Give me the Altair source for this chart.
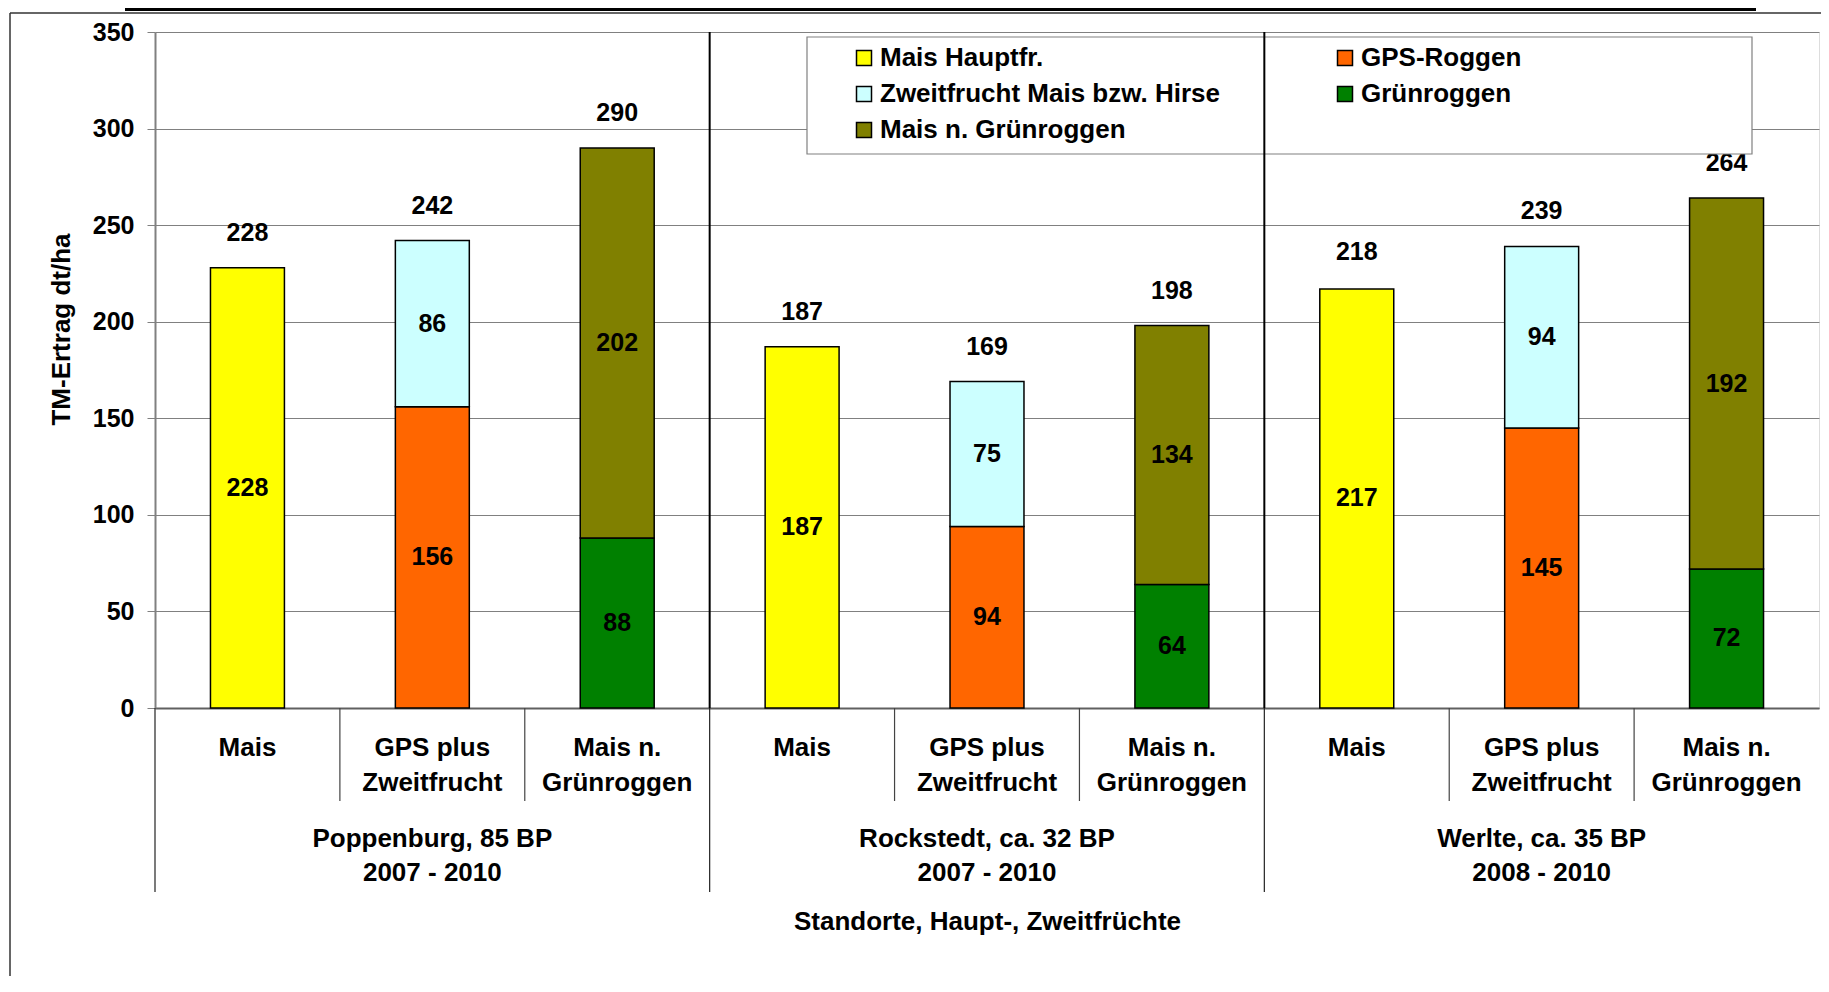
import altair as alt
import pandas as pd

# ---------------- data ----------------
sites = ["Poppenburg, 85 BP", "Rockstedt, ca. 32 BP", "Werlte, ca. 35 BP"]
periods = ["2007 - 2010", "2007 - 2010", "2008 - 2010"]
variants = ["Mais", "GPS plus\nZweitfrucht", "Mais n.\nGrünroggen"]

# legend order (filled column by column, 3 rows)
series_names = ["Mais Hauptfr.", "Zweitfrucht Mais bzw. Hirse", "Mais n. Grünroggen",
                "GPS-Roggen", "Grünroggen"]
series_colors = ["#FFFF00", "#CCFFFF", "#808000", "#FF6600", "#008000"]

# bottom / top segment series for each variant
base_series = ["Mais Hauptfr.", "GPS-Roggen", "Grünroggen"]
top_series = [None, "Zweitfrucht Mais bzw. Hirse", "Mais n. Grünroggen"]

# values per bar, site-major order
base_values = [228, 156, 88, 187, 94, 64, 217, 145, 72]
top_values = [0, 86, 202, 0, 75, 134, 0, 94, 192]
totals = [228, 242, 290, 187, 169, 198, 218, 239, 264]

y_ticks = [0, 50, 100, 150, 200, 250, 300, 350]

FONT = "Liberation Sans"

# ---------------- tables ----------------
keys, cat_labels, firsts = [], [], []
for s in sites:
    for j, v in enumerate(variants):
        keys.append(s + " | " + v.replace("\n", " "))
        cat_labels.append(v)
        firsts.append(j == 0)

seg_rows = []
for i, k in enumerate(keys):
    j = i % 3
    seg_rows.append({"key": k, "series": base_series[j], "value": base_values[i], "order": 0})
    if top_series[j] is not None and top_values[i] > 0:
        seg_rows.append({"key": k, "series": top_series[j], "value": top_values[i], "order": 1})
seg_df = pd.DataFrame(seg_rows)

tot_df = pd.DataFrame({"key": keys, "total": totals})
cat_df = pd.DataFrame({"key": keys, "label": cat_labels})
inner_df = pd.DataFrame({"key": [k for k, f in zip(keys, firsts) if not f]})
group_df = pd.DataFrame({"key": [k for k, f in zip(keys, firsts) if f]})
group_inner_df = pd.DataFrame({"key": [k for k, f in zip(keys, firsts) if f][1:]})
grp_lab_df = pd.DataFrame({"key": [keys[3 * g + 1] for g in range(3)],
                           "label": [sites[g] + "\n" + periods[g] for g in range(3)]})
one = pd.DataFrame({"d": [0]})

W, H = 1664, 676

x_scale = alt.Scale(domain=keys, paddingInner=0, paddingOuter=0)
x_axis = alt.Axis(labels=False, ticks=False, grid=False, domain=True,
                  domainColor="#606060", domainWidth=2,
                  title="Standorte, Haupt-, Zweitfrüchte",
                  titleFont=FONT, titleFontSize=26, titleFontWeight="bold",
                  titleColor="black", titleY=213, titleBaseline="middle")
y_scale = alt.Scale(domain=[0, 350], nice=False, zero=True)
y_axis = alt.Axis(values=y_ticks, grid=True, gridColor="#808080", gridWidth=1,
                  tickColor="#808080", tickSize=8, domainColor="#808080", domainWidth=2,
                  labelFont=FONT, labelFontSize=25, labelFontWeight="bold",
                  labelColor="black", labelPadding=13,
                  title="TM-Ertrag dt/ha", titleFont=FONT, titleFontSize=26,
                  titleFontWeight="bold", titleColor="black", titleAngle=270,
                  titleX=-94, titleY=297, titleAlign="center", titleBaseline="middle")


def X(band=0.5):
    return alt.X("key:N", scale=x_scale, axis=x_axis, title="Standorte, Haupt-, Zweitfrüchte",
                 bandPosition=band)


def Y(field):
    return alt.Y(field, scale=y_scale, axis=y_axis, title="TM-Ertrag dt/ha")


legend = alt.Legend(orient="none", legendX=696, legendY=13, columns=2,
                    columnPadding=112, rowPadding=10, padding=0, title=None,
                    symbolType="square", symbolSize=225, symbolStrokeColor="black",
                    symbolStrokeWidth=1.5, labelFont=FONT, labelFontSize=26,
                    labelFontWeight="bold", labelColor="black", labelOffset=3,
                    labelLimit=600)

stacked = alt.Chart(seg_df).transform_stack(
    stack="value", groupby=["key"], sort=[alt.SortField("order")], as_=["y0", "y1"]
)

bars = stacked.mark_bar(stroke="black", strokeWidth=1.5, width={"band": 0.4}).encode(
    x=X(),
    y=Y("y0:Q"),
    y2="y1:Q",
    color=alt.Color("series:N", scale=alt.Scale(domain=series_names, range=series_colors),
                    legend=legend),
)

seg_labels = stacked.transform_calculate(mid="(datum.y0 + datum.y1) / 2").mark_text(
    font=FONT, fontSize=25, fontWeight="bold", color="black", baseline="middle"
).encode(x=X(), y=Y("mid:Q"), text="value:Q")

tot_labels = alt.Chart(tot_df).mark_text(
    font=FONT, fontSize=25, fontWeight="bold", color="black", baseline="middle", dy=-35
).encode(x=X(), y=Y("total:Q"), text="total:Q")

# decorations
frame_left = alt.Chart(one).mark_rule(color="#333333", strokeWidth=1.5).encode(
    x=alt.value(-145), y=alt.value(-19), y2=alt.value(H + 268))
frame_top = alt.Chart(one).mark_rule(color="#333333", strokeWidth=1.5).encode(
    x=alt.value(-145), x2=alt.value(W + 2), y=alt.value(-19))
thick_top = alt.Chart(one).mark_rule(color="black", strokeWidth=4).encode(
    x=alt.value(-30), x2=alt.value(1601), y=alt.value(-23))
legend_box = alt.Chart(one).mark_rect(fill="white", stroke="#808080", strokeWidth=1.2).encode(
    x=alt.value(652), x2=alt.value(1597), y=alt.value(5), y2=alt.value(122))

group_lines_in = alt.Chart(group_inner_df).mark_rule(color="black", strokeWidth=2).encode(
    x=X(0), y=alt.value(0), y2=alt.value(H))
group_lines_out = alt.Chart(group_df).mark_rule(color="#222222", strokeWidth=1.2).encode(
    x=X(0), y=alt.value(H), y2=alt.value(H + 184))
inner_lines = alt.Chart(inner_df).mark_rule(color="#444444", strokeWidth=1.2).encode(
    x=X(0), y=alt.value(H), y2=alt.value(H + 93))

cat_text = alt.Chart(cat_df).mark_text(
    font=FONT, fontSize=26, fontWeight="bold", color="black", baseline="alphabetic",
    lineBreak="\n", lineHeight=35
).encode(x=X(), y=alt.value(H + 48), text="label:N")

grp_text = alt.Chart(grp_lab_df).mark_text(
    font=FONT, fontSize=26, fontWeight="bold", color="black", baseline="alphabetic",
    lineBreak="\n", lineHeight=34
).encode(x=X(), y=alt.value(H + 139), text="label:N")

chart = alt.layer(
    frame_left, frame_top, thick_top,
    bars, seg_labels, tot_labels,
    legend_box, group_lines_in, group_lines_out, inner_lines,
    cat_text, grp_text,
).properties(
    width=W, height=H,
    autosize=alt.AutoSizeParams(type="none"),
    padding={"left": 147, "top": 24, "right": 2, "bottom": 268},
    background="white",
).configure_view(fill="#FFFFCC", stroke=None).configure(font=FONT)

chart.save("out.html", embed_options={"renderer": "svg", "actions": False})
